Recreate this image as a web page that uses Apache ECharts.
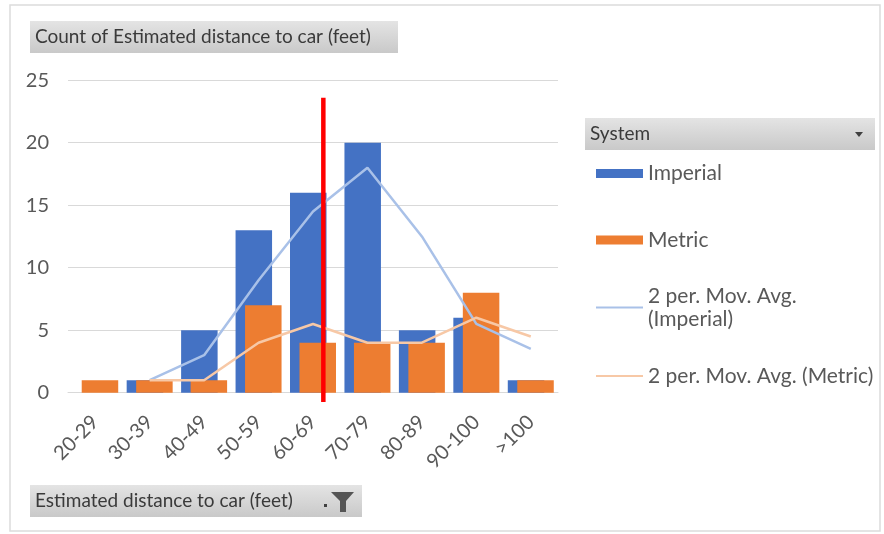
<!DOCTYPE html>
<html>
<head>
<meta charset="utf-8">
<script src="https://cdn.jsdelivr.net/npm/echarts@6/dist/echarts.min.js"></script>
<style>
  html, body { margin: 0; padding: 0; background: #ffffff; }
  #chart { width: 884px; height: 534px; }
</style>
</head>
<body>
<div id="chart"></div>
<script>
// Distance bins (feet)
const categories = ['20-29', '30-39', '40-49', '50-59', '60-69', '70-79', '80-89', '90-100', '>100'];
// Counts per measuring system
const imperial = [null, 1, 5, 13, 16, 20, 5, 6, 1];
const metric = [1, 1, 1, 7, 4, 4, 4, 8, 1];
// 2-period moving-average trendlines
const imperialMA = [null, 1, 3, 9, 14.5, 18, 12.5, 5.5, 3.5];
const metricMA = [null, 1, 1, 4, 5.5, 4, 4, 6, 4.5];
// Y axis ticks
const yTicks = { min: 0, max: 25, step: 5 };

const FONT = 'Lato, "Open Sans", sans-serif';
const GREY_TEXT = '#595959';
const DARK_TEXT = '#3a3a3a';

// Red reference marker, placed on a hidden 0..9 value axis over the bins
const markerX = 4.69;
const markerSpan = [23.6, -0.75];

const chart = echarts.init(document.getElementById('chart'), null, { renderer: 'canvas' });

const buttonFill = new echarts.graphic.LinearGradient(0, 0, 0, 1, [
  { offset: 0, color: '#e4e4e4' },
  { offset: 1, color: '#c9c9c9' }
]);

const maName = (s) => '2 per. Mov. Avg. (' + s + ')';
const legendText = { color: GREY_TEXT, fontSize: 21, fontFamily: FONT, lineHeight: 22 };

chart.setOption({
  animation: false,
  backgroundColor: '#ffffff',
  textStyle: { fontFamily: FONT },
  grid: {
    left: 68, right: 326, top: 80.2, bottom: 141.3,
    containLabel: false, outerBoundsMode: 'none'
  },
  xAxis: [{
    type: 'category',
    data: categories,
    axisTick: { show: false },
    axisLine: { lineStyle: { color: '#d9d9d9', width: 1 } },
    axisLabel: {
      rotate: 45, margin: 26, color: GREY_TEXT,
      fontSize: 20, fontFamily: FONT, interval: 0
    }
  }, {
    type: 'value', min: 0, max: 9, show: false
  }],
  yAxis: {
    type: 'value',
    min: yTicks.min, max: yTicks.max, interval: yTicks.step,
    axisLine: { show: false },
    axisTick: { show: false },
    splitLine: { lineStyle: { color: '#d9d9d9', width: 1 } },
    axisLabel: { color: GREY_TEXT, fontSize: 20, fontFamily: FONT, margin: 19 }
  },
  legend: [
    {
      left: 596, top: 162.5, padding: 0, itemWidth: 47, itemHeight: 9, itemGap: 0,
      icon: 'rect', selectedMode: false, textStyle: legendText,
      data: ['Imperial']
    },
    {
      left: 596, top: 229, padding: 0, itemWidth: 47, itemHeight: 9, itemGap: 0,
      icon: 'rect', selectedMode: false, textStyle: legendText,
      data: ['Metric']
    },
    {
      left: 596, top: 273, padding: 0, itemWidth: 47, itemHeight: 2, itemGap: 0,
      icon: 'rect', selectedMode: false,
      formatter: () => '2 per. Mov. Avg.\n(Imperial)',
      textStyle: Object.assign({}, legendText, { lineHeight: 23, padding: [23, 0, 0, 0] }),
      data: [maName('Imperial')]
    },
    {
      left: 596, top: 365, padding: 0, itemWidth: 47, itemHeight: 2, itemGap: 0,
      icon: 'rect', selectedMode: false, textStyle: legendText,
      data: [maName('Metric')]
    }
  ],
  series: [
    {
      name: 'Imperial', type: 'bar', data: imperial,
      barWidth: 36.5, barGap: '-74%',
      itemStyle: { color: '#4472c4' }, z: 2
    },
    {
      name: 'Metric', type: 'bar', data: metric,
      barWidth: 36.5, barGap: '-74%',
      itemStyle: { color: '#ed7d31' }, z: 2
    },
    {
      name: maName('Imperial'), type: 'line', data: imperialMA,
      symbol: 'none', connectNulls: false, z: 3,
      lineStyle: { color: '#a9c1e8', width: 2.5 },
      itemStyle: { color: '#a9c1e8' }
    },
    {
      name: maName('Metric'), type: 'line', data: metricMA,
      symbol: 'none', connectNulls: false, z: 3,
      lineStyle: { color: '#f7c8a6', width: 2.5 },
      itemStyle: { color: '#f7c8a6' }
    },
    {
      name: 'marker', type: 'line', xAxisIndex: 1, yAxisIndex: 0,
      data: [[markerX, markerSpan[0]], [markerX, markerSpan[1]]],
      symbol: 'none', clip: false, silent: true, z: 5,
      lineStyle: { color: '#ff0000', width: 4.5 }
    }
  ],
  graphic: [
    // chart frame
    {
      type: 'rect', silent: true, z: -10,
      shape: { x: 10, y: 5, width: 870, height: 526 },
      style: { fill: 'none', stroke: '#dcdcdc', lineWidth: 1.5 }
    },
    // value field button
    {
      type: 'group', silent: true,
      children: [
        { type: 'rect', shape: { x: 30, y: 21, width: 368, height: 32 }, style: { fill: buttonFill } },
        { type: 'text', x: 35, y: 37, style: { text: 'Count of Estimated distance to car (feet)', fill: DARK_TEXT, font: '19px ' + FONT, verticalAlign: 'middle' } }
      ]
    },
    // legend field button
    {
      type: 'group', silent: true,
      children: [
        { type: 'rect', shape: { x: 585, y: 118, width: 290, height: 32 }, style: { fill: buttonFill } },
        { type: 'text', x: 590, y: 134, style: { text: 'System', fill: DARK_TEXT, font: '19px ' + FONT, verticalAlign: 'middle' } },
        { type: 'polygon', shape: { points: [[855, 132], [863, 132], [859, 137]] }, style: { fill: '#404040' } }
      ]
    },
    // axis field button with filter icon
    {
      type: 'group', silent: true,
      children: [
        { type: 'rect', shape: { x: 30, y: 485, width: 332, height: 32 }, style: { fill: buttonFill } },
        { type: 'text', x: 35, y: 501, style: { text: 'Estimated distance to car (feet)', fill: DARK_TEXT, font: '19px ' + FONT, verticalAlign: 'middle' } },
        { type: 'rect', shape: { x: 324, y: 504, width: 3, height: 3 }, style: { fill: '#404040' } },
        { type: 'polygon', shape: { points: [[331, 492], [354, 492], [346, 501], [346, 512], [340, 512], [340, 501]] }, style: { fill: '#555555' } }
      ]
    }
  ]
});
</script>
</body>
</html>
